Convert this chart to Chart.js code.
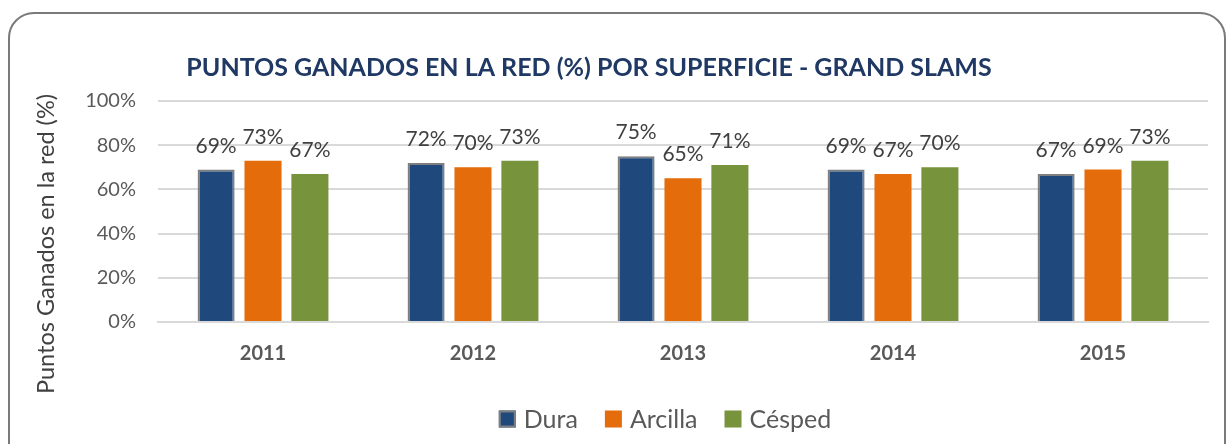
<!DOCTYPE html>
<html lang="es">
<head>
<meta charset="UTF-8">
<script src="https://cdn.jsdelivr.net/npm/chart.js"></script>
<title>Puntos ganados en la red</title>
<style>
  body { margin: 0; background: #fff; }
  #wrap { position: relative; width: 1228px; height: 444px; overflow: hidden; }
  #frame { position: absolute; left: 8px; top: 12px; width: 1214px; height: 470px;
           border: 2px solid #7a7a7a; border-radius: 26px; }
  canvas { position: absolute; left: 0; top: 0; }
</style>
</head>
<body>
<div id="wrap">
  <div id="frame"></div>
  <canvas id="myChart" width="1228" height="444"></canvas>
</div>
<script>
const years = ['2011', '2012', '2013', '2014', '2015'];
const dura = [69, 72, 75, 69, 67];
const arcilla = [73, 70, 65, 67, 69];
const cesped = [67, 73, 71, 70, 73];
const yTicks = [0, 20, 40, 60, 80, 100];

const FONT = 'Lato, "Open Sans", sans-serif';

// etiquetas de valor, titulos y leyenda
const extras = {
  id: 'extras',
  afterDatasetsDraw(chart) {
    const ctx = chart.ctx;
    const sets = chart.data.datasets;
    ctx.save();
    ctx.font = '21px ' + FONT;
    ctx.fillStyle = '#404040';
    ctx.textAlign = 'center';
    ctx.textBaseline = 'alphabetic';
    sets.forEach((ds, i) => {
      chart.getDatasetMeta(i).data.forEach((bar, j) => {
        ctx.fillText(ds.data[j] + '%', bar.x, bar.y - 17);
      });
    });
    ctx.font = 'bold 25px ' + FONT;
    ctx.fillStyle = '#1f3864';
    ctx.textBaseline = 'middle';
    ctx.fillText('PUNTOS GANADOS EN LA RED (%) POR SUPERFICIE - GRAND SLAMS', 589, 68);

    // leyenda
    ctx.font = '25px ' + FONT;
    ctx.textAlign = 'left';
    const box = 17, gapText = 8, gapItem = 27;
    const widths = sets.map(ds => box + gapText + ctx.measureText(ds.label).width);
    const total = widths.reduce((a, b) => a + b, 0) + gapItem * (sets.length - 1);
    let x = 665 - total / 2;
    const yMid = 419;
    sets.forEach((ds, i) => {
      ctx.fillStyle = ds.backgroundColor;
      ctx.fillRect(x, yMid - box / 2, box, box);
      if (ds.borderWidth) {
        ctx.strokeStyle = ds.borderColor;
        ctx.lineWidth = 2;
        ctx.strokeRect(x + 1, yMid - box / 2 + 1, box - 2, box - 2);
      }
      ctx.fillStyle = '#595959';
      ctx.fillText(ds.label, x + box + gapText, yMid + 1);
      x += widths[i] + gapItem;
    });

    ctx.translate(46, 244);
    ctx.rotate(-Math.PI / 2);
    ctx.textAlign = 'center';
    ctx.font = '23.5px ' + FONT;
    ctx.fillStyle = '#404040';
    ctx.fillText('Puntos Ganados en la red (%)', 0, 0);
    ctx.restore();
  }
};

const ctx = document.getElementById('myChart').getContext('2d');
new Chart(ctx, {
  type: 'bar',
  data: {
    labels: years,
    datasets: [
      { label: 'Dura', data: dura, backgroundColor: '#1f497d', borderColor: '#7f7f7f', borderWidth: 2 },
      { label: 'Arcilla', data: arcilla, backgroundColor: '#e46c0a' },
      { label: 'Césped', data: cesped, backgroundColor: '#77933c' }
    ]
  },
  options: {
    responsive: false,
    animation: false,
    layout: { padding: { top: 101, right: 20, bottom: 48, left: 0 } },
    datasets: { bar: { categoryPercentage: 0.67, barPercentage: 0.79 } },
    scales: {
      y: {
        min: 0, max: 100,
        afterBuildTicks: s => { s.ticks = yTicks.map(v => ({ value: v })); },
        afterFit: s => { s.width = 158; },
        ticks: { callback: v => v + '%', color: '#595959', font: { family: FONT, size: 20 }, padding: 22 },
        grid: { color: '#d9d9d9', lineWidth: 2, drawTicks: false },
        border: { display: false }
      },
      x: {
        afterFit: s => { s.height = 74; },
        ticks: { color: '#595959', font: { family: FONT, size: 20, weight: 'bold' }, padding: 20 },
        grid: { display: false, drawTicks: false },
        border: { color: '#d9d9d9', width: 2 }
      }
    },
    plugins: {
      legend: { display: false },
      tooltip: { enabled: false }
    }
  },
  plugins: [extras]
});
</script>
</body>
</html>
